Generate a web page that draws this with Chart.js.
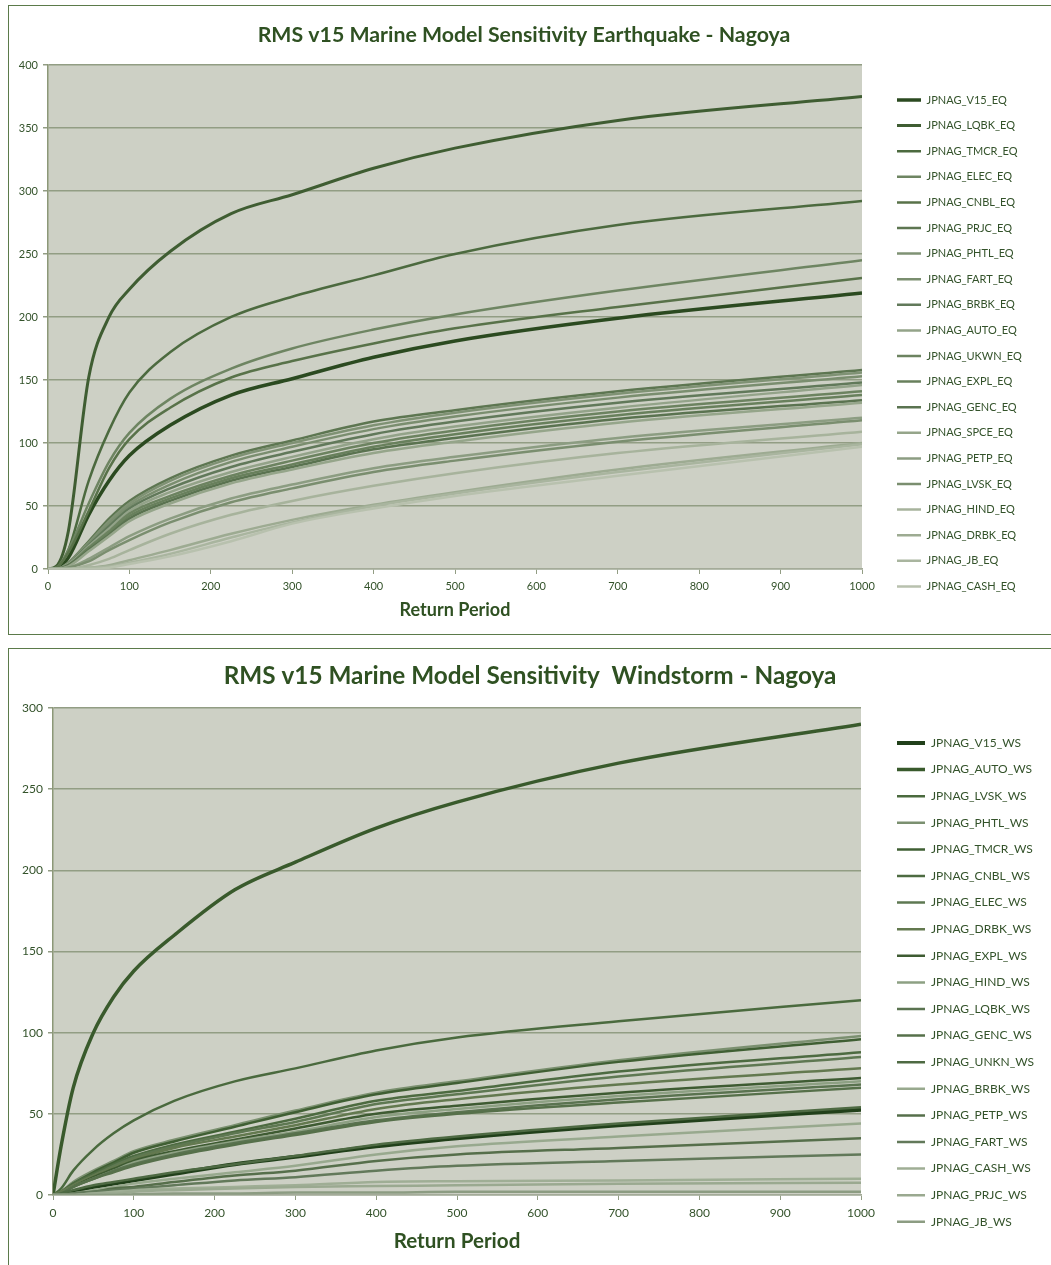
<!DOCTYPE html>
<html>
<head>
<meta charset="utf-8">
<script src="https://cdn.jsdelivr.net/npm/chart.js@4.4.1/dist/chart.umd.min.js"></script>
<style>
    body { margin: 0; background: #fff; width: 1051px; height: 1265px; overflow: hidden; position: relative; }
    .box { position: absolute; left: 8px; width: 1050px; border: 1px solid #5b7a4a; }
    #boxEQ { top: 5px; height: 628px; }
    #boxWS { top: 648px; height: 620px; }
    canvas { display: block; }
</style>
</head>
<body>
<div class="box" id="boxEQ"><canvas id="chartEQ" width="1042" height="628"></canvas></div>
<div class="box" id="boxWS"><canvas id="chartWS" width="1042" height="616"></canvas></div>
<script>
// Return periods (x values) shared by both charts
const returnPeriods = [0, 10, 25, 50, 75, 100, 150, 225, 300, 400, 500, 700, 1000];

// Earthquake series, in legend order
const eqNames = ['JPNAG_V15_EQ', 'JPNAG_LQBK_EQ', 'JPNAG_TMCR_EQ', 'JPNAG_ELEC_EQ', 'JPNAG_CNBL_EQ',
    'JPNAG_PRJC_EQ', 'JPNAG_PHTL_EQ', 'JPNAG_FART_EQ', 'JPNAG_BRBK_EQ', 'JPNAG_AUTO_EQ',
    'JPNAG_UKWN_EQ', 'JPNAG_EXPL_EQ', 'JPNAG_GENC_EQ', 'JPNAG_SPCE_EQ', 'JPNAG_PETP_EQ',
    'JPNAG_LVSK_EQ', 'JPNAG_HIND_EQ', 'JPNAG_DRBK_EQ', 'JPNAG_JB_EQ', 'JPNAG_CASH_EQ'];
const eqV15  = [0, 0, 9, 43, 70, 90, 114, 138, 151, 168, 181, 199, 219];
const eqLQBK = [0, 2, 30, 152, 200, 222, 252, 282, 297, 318, 334, 356, 375];
const eqTMCR = [0, 1, 15, 70, 110, 140, 172, 200, 216, 233, 250, 273, 292];
const eqELEC = [0, 1, 15, 52, 85, 108, 135, 159, 175, 190, 202, 221, 245];
const eqCNBL = [0, 1, 13, 46, 80, 103, 128, 152, 165, 179, 191, 208, 231];
const eqPRJC = [0, 0, 5, 22, 40, 54, 72, 90, 102, 117, 126, 141, 158];
const eqPHTL = [0, 0, 5, 21, 38, 52, 70, 88, 100, 114, 124, 139, 156];
const eqFART = [0, 0, 4, 20, 36, 50, 67, 85, 97, 111, 121, 136, 153];
const eqBRBK = [0, 0, 4, 19, 34, 48, 64, 81, 93, 107, 117, 132, 148];
const eqAUTO = [0, 0, 4, 18, 32, 46, 61, 77, 89, 103, 113, 128, 146];
const eqUKWN = [0, 0, 3, 17, 30, 44, 58, 74, 86, 100, 110, 125, 141];
const eqEXPL = [0, 0, 3, 16, 28, 42, 56, 72, 83, 97, 107, 122, 138];
const eqGENC = [0, 0, 3, 15, 27, 40, 54, 70, 81, 95, 104, 119, 134];
const eqSPCE = [0, 0, 2, 14, 26, 38, 52, 68, 79, 92, 101, 116, 132];
const eqPETP = [0, 0, 1, 8, 17, 26, 40, 56, 67, 80, 89, 104, 120];
const eqLVSK = [0, 0, 1, 6, 15, 23, 37, 53, 64, 77, 86, 101, 118];
const eqHIND = [0, 0, 0, 3, 8, 15, 28, 43, 54, 66, 76, 92, 109];
const eqDRBK = [0, 0, 0, 1, 3, 7, 15, 28, 39, 51, 61, 79, 100];
const eqJB   = [0, 0, 0, 1, 2, 5, 12, 25, 37, 50, 60, 77, 99];
const eqCASH = [0, 0, 0, 0, 1, 4, 10, 22, 36, 48, 58, 74, 97];
const eqValues = [eqV15, eqLQBK, eqTMCR, eqELEC, eqCNBL, eqPRJC, eqPHTL, eqFART, eqBRBK, eqAUTO,
    eqUKWN, eqEXPL, eqGENC, eqSPCE, eqPETP, eqLVSK, eqHIND, eqDRBK, eqJB, eqCASH];
const eqTicksY = [0, 50, 100, 150, 200, 250, 300, 350, 400];

// Windstorm series, in legend order
const wsNames = ['JPNAG_V15_WS', 'JPNAG_AUTO_WS', 'JPNAG_LVSK_WS', 'JPNAG_PHTL_WS', 'JPNAG_TMCR_WS',
    'JPNAG_CNBL_WS', 'JPNAG_ELEC_WS', 'JPNAG_DRBK_WS', 'JPNAG_EXPL_WS', 'JPNAG_HIND_WS',
    'JPNAG_LQBK_WS', 'JPNAG_GENC_WS', 'JPNAG_UNKN_WS', 'JPNAG_BRBK_WS', 'JPNAG_PETP_WS',
    'JPNAG_FART_WS', 'JPNAG_CASH_WS', 'JPNAG_PRJC_WS', 'JPNAG_JB_WS'];
const wsV15  = [0, 0, 2, 5, 7, 9, 13, 19, 23.5, 30, 35, 43, 52.5];
const wsAUTO = [0, 30, 66, 100, 122, 138, 160, 188, 205, 226, 242, 266, 290];
const wsLVSK = [0, 4, 15, 28, 38, 46, 58, 70, 78, 89, 97, 107, 120];
const wsPHTL = [0, 2, 8, 15, 21, 27, 34, 43, 52, 63, 70, 83, 98];
const wsTMCR = [0, 2, 7, 14, 20, 26, 33, 42, 51, 62, 69, 82, 96];
const wsCNBL = [0, 2, 7, 13, 19, 24, 31, 39, 47, 58, 64, 76, 88];
const wsELEC = [0, 2, 6, 12, 18, 23, 30, 38, 45, 56, 62, 73, 85];
const wsDRBK = [0, 2, 6, 12, 17, 22, 29, 36, 43, 53, 59, 68, 78];
const wsEXPL = [0, 1, 5, 11, 16, 21, 27, 34, 41, 50, 55, 63, 72];
const wsHIND = [0, 1, 5, 10, 15, 20, 26, 33, 39, 48, 53, 61, 70];
const wsLQBK = [0, 1, 5, 10, 15, 19, 25, 32, 38, 46, 51, 59, 68];
const wsGENC = [0, 1, 5, 10, 14, 18, 24, 31, 37, 45, 50, 57, 66];
const wsUNKN = [0, 1, 3, 6, 8, 10, 14, 19, 24, 31, 36, 44, 54];
const wsBRBK = [0, 0, 1, 3, 5, 7, 10, 14, 18, 25, 30, 36, 44];
const wsPETP = [0, 0, 1, 2, 4, 5, 8, 12, 15, 21, 25, 29, 35];
const wsFART = [0, 0, 1, 2, 3, 4, 6, 9, 11, 15, 18, 21, 25];
const wsCASH = [0, 0, 0, 1, 2, 3, 4, 5, 6, 8, 8.5, 9, 10];
const wsPRJC = [0, 0, 0, 1, 1, 2, 3, 4, 5, 5.5, 6, 7, 7.5];
const wsJB   = [0, 0, 0, 0, 0, 0.5, 1, 1, 1.5, 1.5, 2, 2, 2];
const wsValues = [wsV15, wsAUTO, wsLVSK, wsPHTL, wsTMCR, wsCNBL, wsELEC, wsDRBK, wsEXPL, wsHIND,
    wsLQBK, wsGENC, wsUNKN, wsBRBK, wsPETP, wsFART, wsCASH, wsPRJC, wsJB];
const wsTicksY = [0, 50, 100, 150, 200, 250, 300];

// Line colours and widths
const eqColors = ['#2b4a20', '#3f5d32', '#4c6a3f', '#6e8562', '#587249', '#5d7651', '#7f9274', '#7a8e6f',
    '#61795a', '#93a389', '#6c8360', '#68805c', '#5a7350', '#95a58a', '#8c9d82', '#7a8e6f',
    '#a7b39c', '#9dab92', '#a9b59f', '#b8c1ae'];
const eqWidths = [3.5, 3, 2.5, 2.5, 2.5, 2.5, 2.5, 2.5, 2.5, 2.5, 2.5, 2.5, 2.5, 2.5, 2.5, 2.5, 2.5, 2.5, 2.5, 2.5];
const wsColors = ['#21401a', '#395a2c', '#4a6a3e', '#7b9070', '#3f5f33', '#4d6b41', '#5e7852', '#63794f',
    '#3e5b32', '#8da083', '#5a7350', '#56704a', '#4e6a43', '#98a98e', '#566f4b', '#62795a',
    '#9fae95', '#9aa990', '#8c9c82'];
const wsWidths = [4, 3.5, 2.5, 2.5, 2.5, 2.5, 2.5, 2.5, 2.5, 2.5, 2.5, 2.5, 2.5, 2.5, 2.5, 2.5, 2.5, 2.5, 2.5];

const textGreen = '#33522a';
const gridColor = '#929d84';

// Fill the plot area and pin the legend box where the original sits
const plotLayout = {
    id: 'plotLayout',
    afterInit(chart, args, opts) {
        const legend = chart.legend;
        if (legend && !legend._fitPatched) {
            const fit = legend.fit;
            legend.fit = function () {
                fit.call(this);
                this.width = opts.legendWidth;
            };
            legend._fitPatched = true;
        }
    },
    afterLayout(chart, args, opts) {
        const legend = chart.legend;
        const h = legend.bottom - legend.top;
        legend.left = opts.legendLeft;
        legend.right = opts.legendLeft + opts.legendWidth;
        legend.top = opts.legendTop;
        legend.bottom = opts.legendTop + h;
    },
    beforeDraw(chart, args, opts) {
        const { ctx, chartArea: a } = chart;
        ctx.save();
        ctx.fillStyle = opts.background;
        ctx.fillRect(a.left, a.top, a.width, a.height);
        ctx.restore();
    }
};

function buildDatasets(names, values, colors, widths) {
    return names.map((name, i) => ({
        label: name,
        data: returnPeriods.map((rp, j) => ({ x: rp, y: values[i][j] })),
        borderColor: colors[i],
        backgroundColor: colors[i],
        borderWidth: widths[i],
        pointRadius: 0,
        showLine: true,
        cubicInterpolationMode: 'monotone',
        order: names.length - i
    }));
}

function makeChart(canvasId, cfg) {
    const ctx = document.getElementById(canvasId).getContext('2d');
    return new Chart(ctx, {
        type: 'scatter',
        data: { datasets: buildDatasets(cfg.names, cfg.values, cfg.colors, cfg.widths) },
        plugins: [plotLayout],
        options: {
            responsive: false,
            animation: false,
            layout: { padding: { right: cfg.padRight } },
            plugins: {
                plotLayout: {
                    background: '#cdd0c5',
                    legendWidth: cfg.legendWidth,
                    legendLeft: 873.4,
                    legendTop: cfg.legendTop
                },
                title: {
                    display: true,
                    text: cfg.title,
                    color: '#2f5122',
                    font: { family: 'Lato', size: cfg.titleSize, weight: 'bold' },
                    padding: { top: cfg.titlePadTop, bottom: cfg.titlePadBottom }
                },
                legend: {
                    position: 'right',
                    align: 'start',
                    labels: {
                        usePointStyle: true,
                        pointStyle: 'line',
                        pointStyleWidth: cfg.legendLine,
                        padding: 14.6,
                        color: textGreen,
                        font: { family: 'Lato', size: cfg.legendFont },
                        sort: (a, b) => a.datasetIndex - b.datasetIndex
                    }
                },
                tooltip: { enabled: false }
            },
            scales: {
                x: {
                    type: 'linear',
                    min: 0,
                    max: 1000,
                    afterFit: (s) => { s.height = cfg.xHeight; },
                    ticks: {
                        stepSize: 100,
                        padding: cfg.xTickPad,
                        color: textGreen,
                        font: { family: 'Lato', size: cfg.tickFont },
                        maxRotation: 0,
                        callback: (v) => String(v)
                    },
                    grid: { drawOnChartArea: false, drawTicks: true, tickLength: 5, color: gridColor },
                    border: { color: '#a4ab99', width: 1.5 },
                    title: {
                        display: true,
                        text: 'Return Period',
                        color: '#2f5122',
                        font: { family: 'Lato', size: cfg.axisTitleSize, weight: 'bold' },
                        padding: { top: 0, bottom: cfg.axisTitlePad }
                    }
                },
                y: {
                    min: 0,
                    max: cfg.yMax,
                    afterFit: (s) => { s.width = cfg.yWidth; },
                    afterBuildTicks: (s) => { s.ticks = cfg.ticksY.map(v => ({ value: v })); },
                    ticks: {
                        padding: 5,
                        color: textGreen,
                        font: { family: 'Lato', size: cfg.tickFont }
                    },
                    grid: { color: gridColor, lineWidth: 1.5, tickLength: 5 },
                    border: { color: '#8c9878', width: 1.5 }
                }
            }
        }
    });
}

makeChart('chartEQ', {
    names: eqNames, values: eqValues, colors: eqColors, widths: eqWidths,
    title: 'RMS v15 Marine Model Sensitivity Earthquake - Nagoya',
    titleSize: 21.3, titlePadTop: 16.2, titlePadBottom: 17.2,
    padRight: 12, legendWidth: 177, legendTop: 73.9, legendLine: 24, legendFont: 11,
    xHeight: 65, xTickPad: 5.5, tickFont: 11,
    axisTitleSize: 18, axisTitlePad: 13.2,
    yMax: 400, yWidth: 39, ticksY: eqTicksY
});

makeChart('chartWS', {
    names: wsNames, values: wsValues, colors: wsColors, widths: wsWidths,
    title: 'RMS v15 Marine Model Sensitivity  Windstorm - Nagoya',
    titleSize: 24.3, titlePadTop: 12.4, titlePadBottom: 17.4,
    padRight: 0, legendWidth: 190, legendTop: 73.4, legendLine: 28, legendFont: 12,
    xHeight: 70, xTickPad: 5.8, tickFont: 12,
    axisTitleSize: 20.6, axisTitlePad: 11.6,
    yMax: 300, yWidth: 44, ticksY: wsTicksY
});
</script>
</body>
</html>
